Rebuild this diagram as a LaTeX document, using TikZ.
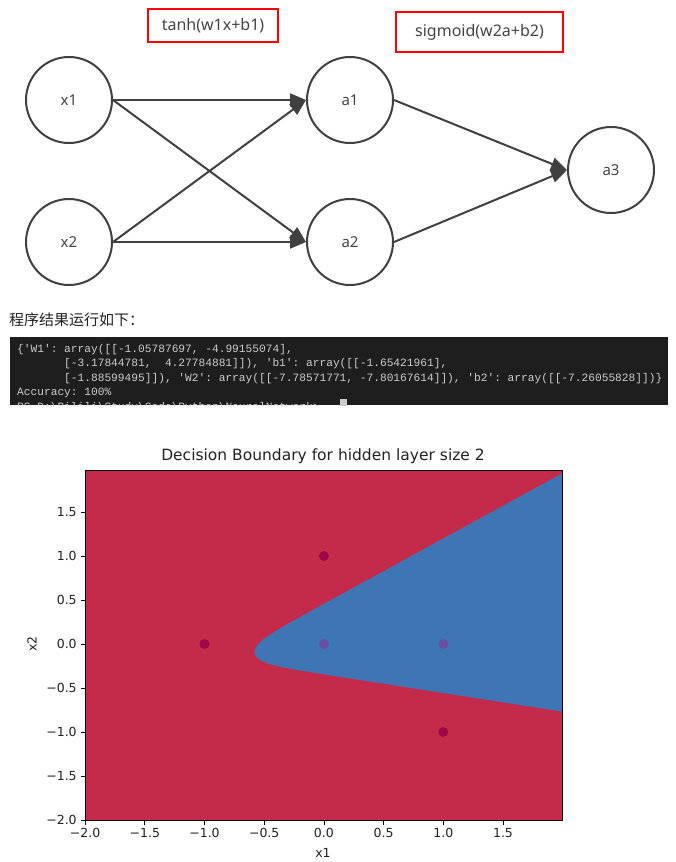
\documentclass[tikz,border=0pt]{standalone}
\usepackage{fontspec}
\setmainfont{Noto Sans}
\setmonofont{Liberation Mono}
\newfontfamily\cjk{Noto Sans CJK SC}
\newfontfamily\plotfont{DejaVu Sans}
\usetikzlibrary{arrows.meta}
\definecolor{edgegray}{HTML}{404040}
\definecolor{labelgray}{HTML}{444444}
\definecolor{termbg}{HTML}{1E1E1E}
\definecolor{termtext}{HTML}{CCCCCC}
\definecolor{regionred}{RGB}{196,43,74}
\definecolor{regionblue}{RGB}{62,117,180}
\definecolor{dotred}{RGB}{158,8,68}
\definecolor{dotpurple}{RGB}{106,80,164}
\definecolor{plotink}{HTML}{222222}

\begin{document}
\begin{tikzpicture}[x=1pt,y=-1pt,
  neuron/.style={circle,draw=edgegray,line width=2pt,minimum size=86pt,inner sep=0pt,
    text=labelgray,font=\fontsize{15}{18}\selectfont},
  link/.style={draw=edgegray,line width=2pt,-{Triangle[length=16pt,width=13pt]}},
  formula/.style={draw=red,line width=2.5pt,inner sep=0pt,text=labelgray,
    font=\fontsize{16}{19}\selectfont},
  termline/.style={anchor=base west,inner sep=0pt,text=termtext,
    font=\ttfamily\fontsize{11.2}{13}\selectfont},
  ticklabel/.style={text=plotink,inner sep=0pt,font=\plotfont\fontsize{12.5}{14}\selectfont},
  declare function={
    th(\s)=(exp(2*\s)-1)/(exp(2*\s)+1);
    ath(\s)=0.5*ln((1+\s)/(1-\s));
    bx(\p,\q)=-(4.27785*(\p+1.65422)+4.99155*(\q+1.88599))/20.39083;
    by(\p,\q)=-(3.17845*(\p+1.65422)-1.05788*(\q+1.88599))/20.39083;
    aone(\s)=-(7.26056+7.80168*\s)/7.78572;
    atwo(\s)=-(7.26056+7.78572*\s)/7.80168;
  }]

\useasboundingbox (0,0) rectangle (676,862);
\fill[white] (0,0) rectangle (676,862);

% network
\node[neuron] (x1) at (69,100) {x1};
\node[neuron] (x2) at (69,242) {x2};
\node[neuron] (a1) at (350,100) {a1};
\node[neuron] (a2) at (350,242) {a2};
\node[neuron] (a3) at (611,170) {a3};

\draw[link] (x1.east) -- (a1.west);
\draw[link] (x1.east) -- (a2.west);
\draw[link] (x2.east) -- (a1.west);
\draw[link] (x2.east) -- (a2.west);
\draw[link] (a1.east) -- (a3.west);
\draw[link] (a2.east) -- (a3.west);

\node[formula,minimum width=130pt,minimum height=33pt] (hidden) at (213,25.5) {tanh(w1x+b1)};
\node[formula,minimum width=167pt,minimum height=40pt] (output) at (479.5,32) {sigmoid(w2a+b2)};

% program output
\node[anchor=west,inner sep=0pt,text=plotink,font=\cjk\fontsize{15}{18}\selectfont] (caption) at (9,320) {程序结果运行如下：};

\fill[termbg] (10,337) rectangle (668,405);
\node[termline] (l1) at (17,352) {\{'W1': array([[-1.05787697, -4.99155074],};
\node[termline] (l2) at (64,366.5) {[-3.17844781,\ \ 4.27784881]]), 'b1': array([[-1.65421961],};
\node[termline] (l3) at (64,381) {[-1.88599495]]), 'W2': array([[-7.78571771, -7.80167614]]), 'b2': array([[-7.26055828]])\}};
\node[termline] (l4) at (17,395.5) {Accuracy: 100\%};
\begin{scope}
  \clip (10,337) rectangle (668,405);
  \node[termline] (l5) at (17,410) {PS D:\textbackslash Bilili\textbackslash Study\textbackslash Code\textbackslash Python\textbackslash NeuralNetwork>};
  \fill[termtext] (340,399) rectangle (347,413);
\end{scope}

% decision boundary plot
\node[text=plotink,font=\plotfont\fontsize{15.5}{18}\selectfont] (title) at (323,456) {Decision Boundary for hidden layer size 2};
\node[ticklabel] (xlab) at (323,853) {x1};
\node[ticklabel,rotate=90] (ylab) at (32,644) {x2};

\begin{scope}[shift={(323.9,644)},x=119.4pt,y=88pt]
  \fill[regionred] (-2,-2) rectangle (1.994,1.977);
  \begin{scope}
    \clip (-2,-2) rectangle (1.994,1.977);
    \fill[regionblue]
      plot[variable=\t,domain=0:15,samples=300]
        ({bx(ath(aone(th(\t-15.5045))),\t-15.5045)},{by(ath(aone(th(\t-15.5045))),\t-15.5045)})
      -- plot[variable=\t,domain=0.5044:15,samples=300]
        ({bx(-\t,ath(atwo(th(-\t))))},{by(-\t,ath(atwo(th(-\t))))})
      -- cycle;
  \end{scope}
  \fill[dotred] (0,1) circle[radius=5pt];
  \fill[dotred] (-1,0) circle[radius=5pt];
  \fill[dotred] (1,-1) circle[radius=5pt];
  \fill[dotpurple] (0,0) circle[radius=5pt];
  \fill[dotpurple] (1,0) circle[radius=5pt];
  \draw[line width=0.8pt] (-2,-2) rectangle (1.994,1.977);
  \foreach \v/\l in {-2/−2.0,-1.5/−1.5,-1/−1.0,-0.5/−0.5,0/0.0,0.5/0.5,1/1.0,1.5/1.5}{
    \draw[line width=0.8pt] (\v,-2) -- ++(0,-4.5pt) node[ticklabel,below=3.5pt] {\l};
    \draw[line width=0.8pt] (-2,\v) -- ++(-4.5pt,0) node[ticklabel,left=3.5pt] {\l};
  }
\end{scope}

\end{tikzpicture}
\end{document}
